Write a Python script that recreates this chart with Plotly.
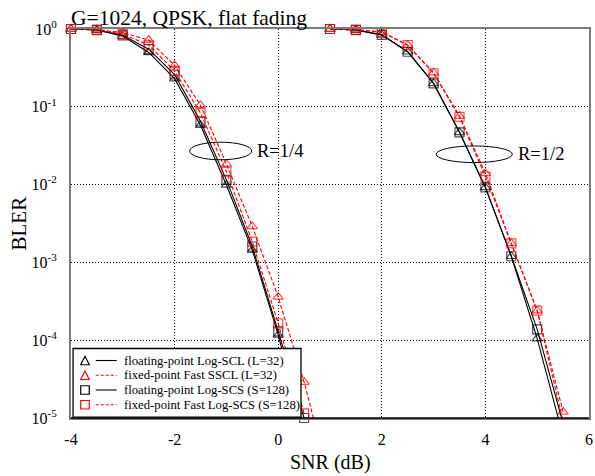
import plotly.graph_objects as go

# SNR points (dB)
snr_r14 = [-4, -3.5, -3, -2.5, -2, -1.5, -1, -0.5, 0, 0.5, 1.0]
snr_r12 = [1, 1.5, 2, 2.5, 3, 3.5, 4, 4.5, 5, 5.5]

# R=1/4 BLER
float_scl_r14 = [1.0, 0.97, 0.81, 0.50, 0.23, 0.058, 0.0099, 0.00144, 1.17e-4, 6e-6, None]
fixed_sscl_r14 = [1.0, 0.98, 0.90, 0.72, 0.34, 0.105, 0.0184, 0.0029, 3.6e-4, 2.9e-5, 1.5e-6]
float_scs_r14 = [1.0, 0.97, 0.83, 0.55, 0.26, 0.065, 0.0115, 0.0016, 1.3e-4, 1.0e-5, None]
fixed_scs_r14 = [1.0, 0.98, 0.86, 0.62, 0.29, 0.083, 0.0147, 0.00185, 1.65e-4, 1.15e-5, None]

# R=1/2 BLER
float_scl_r12 = [1.0, 0.97, 0.84, 0.51, 0.20, 0.047, 0.0092, 0.0012, 1.05e-4, 5.8e-6]
fixed_sscl_r12 = [1.0, 0.98, 0.92, 0.62, 0.275, 0.076, 0.014, 0.00176, 2.4e-4, 1.2e-5]
float_scs_r12 = [1.0, 0.97, 0.84, 0.51, 0.20, 0.047, 0.0092, 0.0012, 1.38e-4, 8.5e-6]
fixed_scs_r12 = [1.0, 0.98, 0.91, 0.62, 0.27, 0.074, 0.0127, 0.00176, 2.4e-4, 9e-6]

series_names = [
    "floating-point Log-SCL (L=32)",
    "fixed-point Fast SSCL (L=32)",
    "floating-point Log-SCS (S=128)",
    "fixed-point Fast Log-SCS (S=128)",
]

y_exponents = [0, -1, -2, -3, -4, -5]
x_ticks = [-4, -2, 0, 2, 4, 6]
Y_MIN = 1e-5

SERIF = "Liberation Serif"
RED_DASH = "4px,2px"

fig = go.Figure()

styles = [
    ("black", "solid", "triangle-up-open"),
    ("red", RED_DASH, "triangle-up-open"),
    ("black", "solid", "square-open"),
    ("red", RED_DASH, "square-open"),
]
data_r14 = [float_scl_r14, fixed_sscl_r14, float_scs_r14, fixed_scs_r14]
data_r12 = [float_scl_r12, fixed_sscl_r12, float_scs_r12, fixed_scs_r12]

for name, (col, dash, sym), a, b in zip(series_names, styles, data_r14, data_r12):
    xs = list(snr_r14) + [None] + list(snr_r12)
    ys = list(a) + [None] + list(b)
    sizes = [9 if (v is not None and v >= Y_MIN * 0.999) else 0 for v in ys]
    fig.add_trace(go.Scatter(
        x=xs, y=ys, name=name, mode="lines+markers",
        connectgaps=False, cliponaxis=False, showlegend=False,
        line=dict(color=col, width=1.1, dash=dash),
        marker=dict(symbol=sym, size=sizes, color=col, line=dict(width=1.2, color=col)),
    ))

# ellipses marking the code rates
fig.add_shape(type="circle", xref="x", yref="y",
              x0=-1.71, x1=-0.51, y0=10**(-1.568 - 0.113), y1=10**(-1.568 + 0.113),
              line=dict(color="black", width=1))
fig.add_shape(type="circle", xref="x", yref="y",
              x0=3.05, x1=4.52, y0=10**(-1.61 - 0.107), y1=10**(-1.61 + 0.107),
              line=dict(color="black", width=1))
fig.add_annotation(x=-0.45, y=-1.568, xref="x", yref="y", text="R=1/4",
                   showarrow=False, xanchor="left", yanchor="middle",
                   font=dict(family=SERIF, size=18.5, color="black"))
fig.add_annotation(x=4.6, y=-1.61, xref="x", yref="y", text="R=1/2",
                   showarrow=False, xanchor="left", yanchor="middle",
                   font=dict(family=SERIF, size=18.5, color="black"))

# chart title
fig.add_annotation(x=0, y=1, xref="paper", yref="paper", text="G=1024, QPSK, flat fading",
                   showarrow=False, xanchor="left", yanchor="bottom", yshift=-3, xshift=-2,
                   font=dict(family=SERIF, size=21.5, color="black"))
# axis titles
fig.add_annotation(x=0.5, y=0, xref="paper", yref="paper", text="SNR (dB)",
                   showarrow=False, xanchor="center", yanchor="middle", yshift=-44,
                   font=dict(family=SERIF, size=20, color="black"))
fig.add_annotation(x=0, y=0.5, xref="paper", yref="paper", text="BLER", textangle=-90,
                   showarrow=False, xanchor="center", yanchor="middle", xshift=-53,
                   font=dict(family=SERIF, size=21, color="black"))

# custom legend (marker, then line, then label), drawn inside the plot area
leg_box = dict(x0=0.004, x1=0.444, y0=0.002, y1=0.1787)
row_y0, row_step = 0.1478, 0.0379
mk_x, ln_x0, ln_x1, tx_x = 0.027, 0.0477, 0.0882, 0.0985
mdx, mdy = 0.0083, 0.0109
fig.add_shape(type="rect", xref="paper", yref="paper", fillcolor="white",
              line=dict(color="black", width=1.3), layer="above", **leg_box)
for i, (name, (col, dash, sym)) in enumerate(zip(series_names, styles)):
    yy = row_y0 - i * row_step
    if sym.startswith("triangle"):
        path = "M %f,%f L %f,%f L %f,%f Z" % (mk_x - mdx, yy - mdy, mk_x + mdx, yy - mdy, mk_x, yy + mdy)
    else:
        path = "M %f,%f L %f,%f L %f,%f L %f,%f Z" % (mk_x - mdx, yy - mdy, mk_x + mdx, yy - mdy,
                                                      mk_x + mdx, yy + mdy, mk_x - mdx, yy + mdy)
    fig.add_shape(type="path", path=path, xref="paper", yref="paper", layer="above",
                  line=dict(color=col, width=1.2))
    fig.add_shape(type="line", xref="paper", yref="paper", layer="above",
                  x0=ln_x0, x1=ln_x1, y0=yy, y1=yy,
                  line=dict(color=col, width=1.1, dash=("3px,2px" if dash != "solid" else "solid")))
    fig.add_annotation(x=tx_x, y=yy, xref="paper", yref="paper", text=name, showarrow=False,
                       xanchor="left", yanchor="middle",
                       font=dict(family=SERIF, size=12.7, color="black"))

# darker bottom frame line
fig.add_shape(type="line", xref="paper", yref="paper", x0=0, x1=1, y0=0, y1=0,
              layer="above", line=dict(color="black", width=1.5))

fig.update_layout(
    width=595, height=476,
    margin=dict(l=71, r=6, t=29, b=58),
    paper_bgcolor="white", plot_bgcolor="white",
    font=dict(family=SERIF, color="black", size=16),
    showlegend=False,
)
fig.update_xaxes(
    range=[-4, 6], tickvals=x_ticks, ticktext=[str(v) for v in x_ticks],
    showgrid=True, gridcolor="black", griddash="1px,2px", gridwidth=1,
    showline=True, linecolor="#7a7a7a", linewidth=2, mirror=True,
    ticks="", zeroline=False, automargin=False, ticklabelstandoff=6,
    tickfont=dict(family=SERIF, size=16),
)
fig.update_yaxes(
    type="log", range=[-5, 0],
    tickvals=[10 ** e for e in y_exponents],
    ticktext=["10<sup>%d</sup>" % e for e in y_exponents],
    showgrid=True, gridcolor="black", griddash="1px,2px", gridwidth=1,
    showline=True, linecolor="#7a7a7a", linewidth=2, mirror=True,
    ticks="", zeroline=False, automargin=False, ticklabelstandoff=9,
    tickfont=dict(family=SERIF, size=16),
)

fig.write_html("out.html", config={"displayModeBar": False},
               post_script="document.body.style.margin='0px';")
